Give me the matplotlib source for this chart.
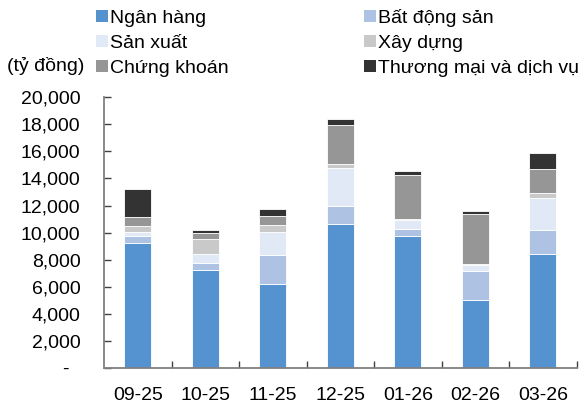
import matplotlib
matplotlib.use("Agg")
import matplotlib.pyplot as plt
from matplotlib.patches import Patch
from matplotlib.ticker import FuncFormatter, FixedLocator
import numpy as np

plt.rcParams['font.family'] = ['Liberation Sans', 'DejaVu Sans']

months = ["09-25", "10-25", "11-25", "12-25", "01-26", "02-26", "03-26"]

ngan_hang = [9250, 7260, 6230, 10660, 9770, 5050, 8440]
bat_dong_san = [520, 520, 2090, 1280, 520, 2140, 1720]
san_xuat = [270, 660, 1750, 2830, 640, 420, 2410]
xay_dung = [470, 1080, 520, 300, 100, 40, 350]
chung_khoan = [660, 420, 615, 2860, 3250, 3750, 1800]
thuong_mai = [2090, 220, 540, 440, 250, 200, 1160]

series = [
    ("Ngân hàng", ngan_hang, "#5592d0"),
    ("Bất động sản", bat_dong_san, "#aec3e4"),
    ("Sản xuất", san_xuat, "#e1e9f7"),
    ("Xây dựng", xay_dung, "#c9c9c9"),
    ("Chứng khoán", chung_khoan, "#969696"),
    ("Thương mại và dịch vụ", thuong_mai, "#333333"),
]

fig = plt.figure(figsize=(5.87, 4.05), dpi=100)
ax = fig.add_axes([0.1772, 0.0914, 0.805, 0.6684])

x = np.arange(len(months))
bottom = np.zeros(len(months))
handles = {}
for name, vals, color in series:
    vals = np.array(vals, dtype=float)
    ax.bar(x, vals, width=0.4, bottom=bottom, color=color,
           edgecolor="white", linewidth=0.6, zorder=2)
    bottom += vals
    handles[name] = Patch(facecolor=color, edgecolor="none", label=name)

ax.set_xlim(-0.5, len(months) - 0.5)
ax.set_ylim(0, 20000)

ax.spines["top"].set_visible(False)
ax.spines["right"].set_visible(False)
for s in ("left", "bottom"):
    ax.spines[s].set_color("#808080")
    ax.spines[s].set_linewidth(1.3)

ax.set_yticks(np.arange(0, 20001, 2000))
ax.yaxis.set_major_formatter(FuncFormatter(lambda v, p: "-  " if v == 0 else f"{v:,.0f}"))
ax.tick_params(axis="y", direction="in", length=5, width=1, color="#404040",
               labelsize=14, pad=17)

ax.set_xticks(x)
ax.set_xticklabels(months)
ax.xaxis.set_minor_locator(FixedLocator(np.arange(0.5, len(months), 1.0)))
ax.tick_params(axis="x", which="major", length=0, labelsize=14, pad=14)
ax.tick_params(axis="x", which="minor", direction="in", length=5, width=1, color="#404040")

fig.text(7 / 587, 1 - 66 / 405, "(tỷ đồng)", fontsize=14, va="center", ha="left")

order = ["Ngân hàng", "Sản xuất", "Chứng khoán",
         "Bất động sản", "Xây dựng", "Thương mại và dịch vụ"]
fig.legend([handles[n] for n in order], order, ncol=2,
           loc="upper left", bbox_to_anchor=(96 / 587, 1 - 9 / 405),
           frameon=False, fontsize=14, handlelength=0.6, handleheight=0.6,
           handletextpad=0.1, labelspacing=0.4, columnspacing=7.0,
           borderaxespad=0, borderpad=0)

fig.savefig("out.png", dpi=100)
